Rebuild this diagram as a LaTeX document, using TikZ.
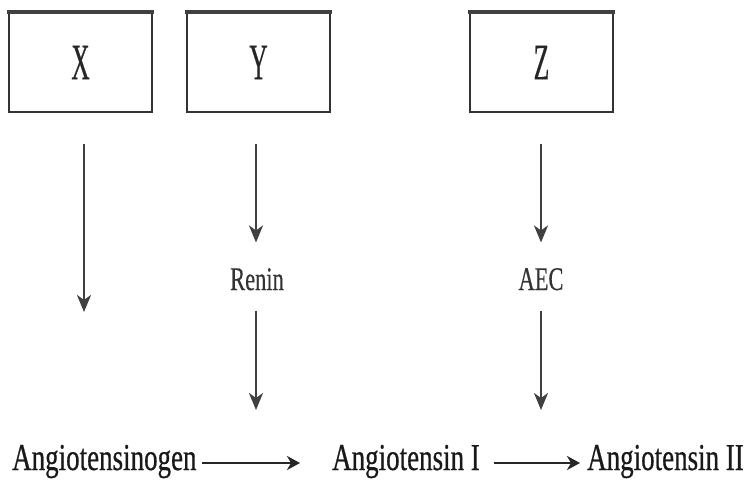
\documentclass[tikz,border=0pt]{standalone}
\usepackage{fontspec}
\setmainfont{Liberation Serif}
\newfontfamily\sqfont[FakeStretch=0.71,FakeBold=0.5]{Liberation Serif}
\newfontfamily\midfont[FakeStretch=0.68,FakeBold=0.4]{Liberation Serif}
\newfontfamily\boxfont[FakeStretch=0.5,FakeBold=0.3]{Liberation Serif}
\usetikzlibrary{arrows.meta}
\begin{document}
\begin{tikzpicture}[x=1pt,y=-1pt,
  boxnode/.style={draw=black!80, line width=2.2pt, minimum width=143pt, minimum height=99pt, inner sep=0pt,
     font=\boxfont\fontsize{51}{55}\selectfont, text=black!85},
  topedge/.style={line width=4pt, draw=black!75},
  midlabel/.style={inner sep=0pt, anchor=base, font=\midfont\fontsize{33}{36}\selectfont, text=black!80},
  botlabel/.style={inner sep=0pt, anchor=base west, font=\sqfont\fontsize{38}{42}\selectfont, text=black!90},
  varrow/.style={draw=black!75, line width=2.3pt, -{Stealth[length=17pt,width=14pt,inset=5pt]}},
  harrow/.style={draw=black!85, line width=2.5pt, -{Stealth[length=13pt,width=14pt,inset=4pt]}}
]
\useasboundingbox (0,0) rectangle (746,487);
\fill[white] (0,0) rectangle (746,487);

% boxes
\node[boxnode] (X) at (80.5,62.5) {X};
\node[boxnode] (Y) at (258.5,62.5) {Y};
\node[boxnode] (Z) at (541.5,62.5) {Z};
\foreach \b in {X,Y,Z}{
  \draw[topedge] ([xshift=-1.1pt]\b.north west) -- ([xshift=1.1pt]\b.north east);
}

% middle labels
\node[midlabel] (renin) at (257,290) {Renin};
\node[midlabel] (aec) at (541,290) {AEC};

% bottom labels
\node[botlabel] (ang0) at (12,470) {Angiotensinogen};
\node[botlabel] (ang1) at (332,470) {Angiotensin I};
\node[botlabel] (ang2) at (587,470) {Angiotensin II};

% free ends
\coordinate (xend) at (84,312);
\coordinate (yend) at (256,410);
\coordinate (zend) at (541,410);

% vertical arrows
\draw[varrow] ([shift={(3.5pt,-31pt)}]X.south) -- (xend);
\draw[varrow] ([shift={(-2.5pt,-31pt)}]Y.south) -- ([shift={(-1pt,25.5pt)}]renin.north);
\draw[varrow] ([shift={(-1pt,-20pt)}]renin.south) -- (yend);
\draw[varrow] ([shift={(-0.5pt,-31pt)}]Z.south) -- ([shift={(0pt,25.5pt)}]aec.north);
\draw[varrow] ([shift={(0pt,-20pt)}]aec.south) -- (zend);

% horizontal arrows
\draw[harrow] ([shift={(5pt,7pt)}]ang0.base east) -- ([shift={(-32pt,7pt)}]ang1.base west);
\draw[harrow] ([shift={(14pt,7pt)}]ang1.base east) -- ([shift={(-7pt,7pt)}]ang2.base west);
\end{tikzpicture}
\end{document}
